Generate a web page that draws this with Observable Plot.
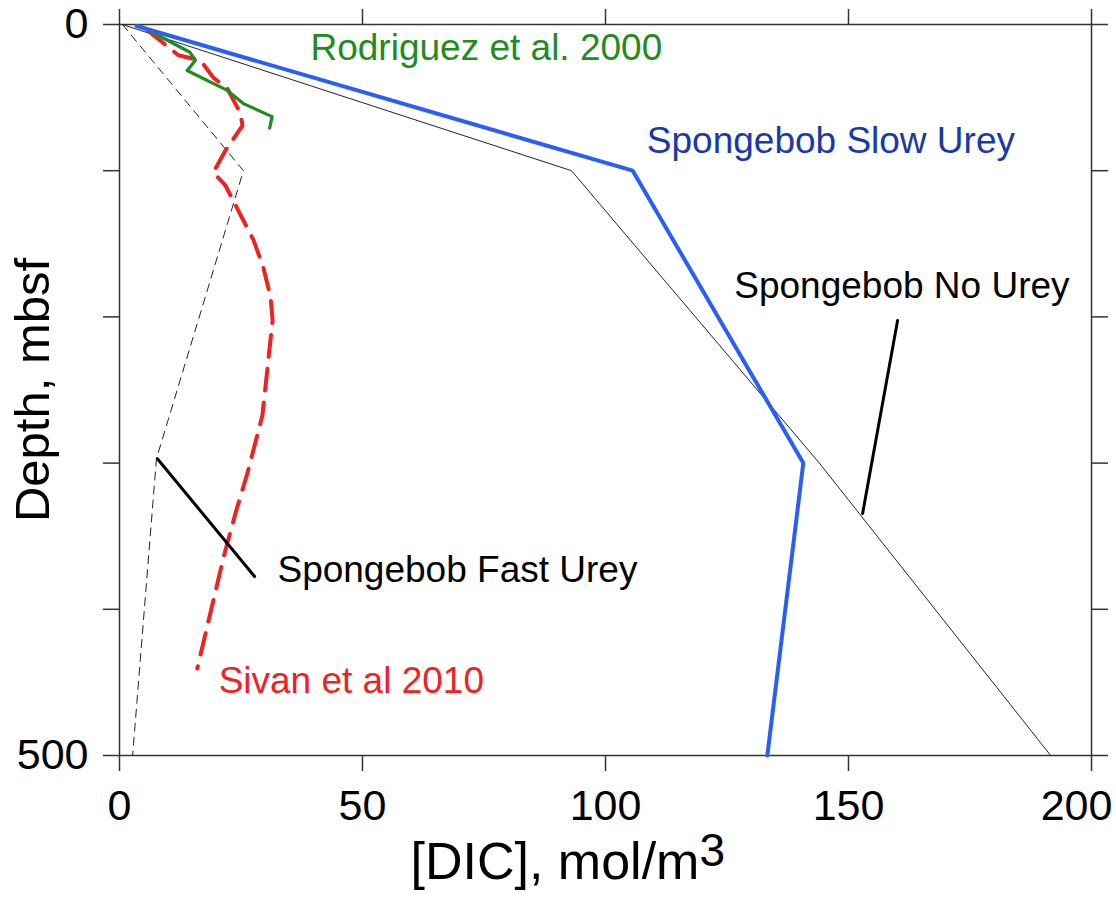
<!DOCTYPE html>
<html>
<head>
<meta charset="utf-8">
<script src="https://cdn.jsdelivr.net/npm/d3@7"></script>
<script src="https://cdn.jsdelivr.net/npm/@observablehq/plot@0.6"></script>
<style>
  html, body { margin: 0; padding: 0; background: #fff; }
  #chart { width: 1116px; height: 911px; }
</style>
</head>
<body>
<div id="chart"></div>
<script>
// ---- data (DIC in mol/m3, depth in mbsf) ----
const slowUreyDIC   = [3.5, 105.6, 140.7, 133.3];
const slowUreyDepth = [1, 100, 300, 500];

const noUreyDIC   = [0.6, 93, 144, 191.6];
const noUreyDepth = [0, 100, 300, 500];

const fastUreyDIC   = [0.6, 25.5, 7.6, 2.7];
const fastUreyDepth = [0, 100, 297, 500];

const rodriguezDIC   = [4.3, 14.5, 15.6, 13.9, 22.2, 25.6, 31.4, 30.9];
const rodriguezDepth = [1, 19, 24.6, 31.5, 45.1, 54.3, 63, 70.8];

const sivanDIC   = [5.8, 12.1, 16.7, 19.3, 22.2, 24.9, 25.3, 21.8, 19.3, 21.8, 27.6, 29.6, 31.1, 31.5, 31.1, 29.4, 26.3, 23.9, 21.4, 16.0];
const sivanDepth = [4, 21, 24.6, 36.3, 43.8, 60.9, 69.1, 86.2, 101.2, 110.1, 147.7, 166.2, 186.7, 202.5, 214.8, 267.4, 307.1, 333.8, 364.6, 440.5];

const xTicks = [0, 50, 100, 150, 200];
const yTicks = [0, 100, 200, 300, 400, 500];
const yTickLabels = ["0", "", "", "", "", "500"];

const xLabel = "[DIC], mol/m";
const xLabelSup = "3";
const yLabel = "Depth, mbsf";

const annoText  = ["Rodriguez et al. 2000", "Spongebob Slow Urey", "Spongebob No Urey", "Spongebob Fast Urey", "Sivan et al 2010"];
const annoDIC   = [39.3, 108.5, 126.5, 32.5, 20.4];
const annoDepth = [16.4, 80, 179, 373.5, 449];

// leader lines (DIC, depth) pairs
const fastLeaderDIC = [7.8, 27.8];
const fastLeaderDepth = [297, 377.6];
const noLeaderDIC = [160.1, 152.9];
const noLeaderDepth = [202.5, 334.5];

// ---- build tables ----
const zip = (xs, ys) => xs.map((x, i) => ({x, y: ys[i]}));
const slow = zip(slowUreyDIC, slowUreyDepth);
const noU = zip(noUreyDIC, noUreyDepth);
const fast = zip(fastUreyDIC, fastUreyDepth);
const rod = zip(rodriguezDIC, rodriguezDepth);
const siv = zip(sivanDIC, sivanDepth);
const fastLead = zip(fastLeaderDIC, fastLeaderDepth);
const noLead = zip(noLeaderDIC, noLeaderDepth);
const annoColors = ["#1f8c1f", "#1a38a8", "#000000", "#000000", "#ee2222"];
const anno = annoText.map((t, i) => ({t, x: annoDIC[i], y: annoDepth[i], c: annoColors[i]}));

const font = "'Liberation Sans', Arial, Helvetica, sans-serif";
const lastX = xTicks[xTicks.length - 1];

const svg = Plot.plot({
  width: 1116,
  height: 911,
  marginLeft: 119,
  marginRight: 25,
  marginTop: 24,
  marginBottom: 156,
  style: {fontFamily: font, background: "white", color: "black"},
  x: {domain: [0, 200]},
  y: {domain: [0, 500], reverse: true},
  marks: [
    Plot.axisX({anchor: "bottom", ticks: xTicks, tickSize: 16, tickFormat: () => "", stroke: "#333", strokeWidth: 1.5, label: null}),
    Plot.axisX({anchor: "bottom", ticks: xTicks.slice(0, -1), tickSize: 0, tickPadding: 34, fontSize: 43, fill: "black", label: null}),
    Plot.axisX({anchor: "bottom", ticks: [lastX], tickSize: 0, tickPadding: 34, dx: -15, fontSize: 43, fill: "black", label: null}),
    Plot.axisX({anchor: "top", ticks: xTicks, tickSize: 16, tickFormat: () => "", stroke: "#333", strokeWidth: 1.5, label: null}),
    Plot.axisY({anchor: "left", ticks: yTicks, tickSize: 16, tickPadding: 15, fontSize: 43, stroke: "#333", strokeWidth: 1.5, fill: "black",
      tickFormat: d => yTickLabels[yTicks.indexOf(d)], label: null}),
    Plot.axisY({anchor: "right", ticks: yTicks, tickSize: 16, tickFormat: () => "", stroke: "#333", strokeWidth: 1.5, label: null}),
    Plot.frame({stroke: "#333", strokeWidth: 1.5}),

    Plot.line(noU, {x: "x", y: "y", stroke: "#222", strokeWidth: 1}),
    Plot.line(fast, {x: "x", y: "y", stroke: "#222", strokeWidth: 1, strokeDasharray: "8,6"}),
    Plot.line(siv, {x: "x", y: "y", stroke: "#ee2222", strokeWidth: 4, strokeDasharray: "22,12"}),
    Plot.line(rod, {x: "x", y: "y", stroke: "#1f8c1f", strokeWidth: 3.2}),
    Plot.line(slow, {x: "x", y: "y", stroke: "#2a5ff5", strokeWidth: 4}),
    Plot.line(fastLead, {x: "x", y: "y", stroke: "black", strokeWidth: 3}),
    Plot.line(noLead, {x: "x", y: "y", stroke: "black", strokeWidth: 3}),

    Plot.text(anno, {x: "x", y: "y", text: "t", fill: "c", textAnchor: "start", lineAnchor: "middle", fontSize: 37}),

    Plot.text([yLabel], {frameAnchor: "left", dx: -86, rotate: -90, textAnchor: "middle", lineAnchor: "middle", fontSize: 49, fill: "black"}),
    Plot.text([xLabel], {frameAnchor: "bottom-left", dx: 291, dy: 107, textAnchor: "start", lineAnchor: "middle", fontSize: 52, fill: "black"})
  ]
});

d3.select(svg).selectAll("text")
  .filter(function() { return this.textContent === xLabel; })
  .append("tspan")
  .attr("dy", "-0.28em")
  .attr("font-size", 46)
  .text(xLabelSup);

document.getElementById("chart").appendChild(svg);
</script>
</body>
</html>
